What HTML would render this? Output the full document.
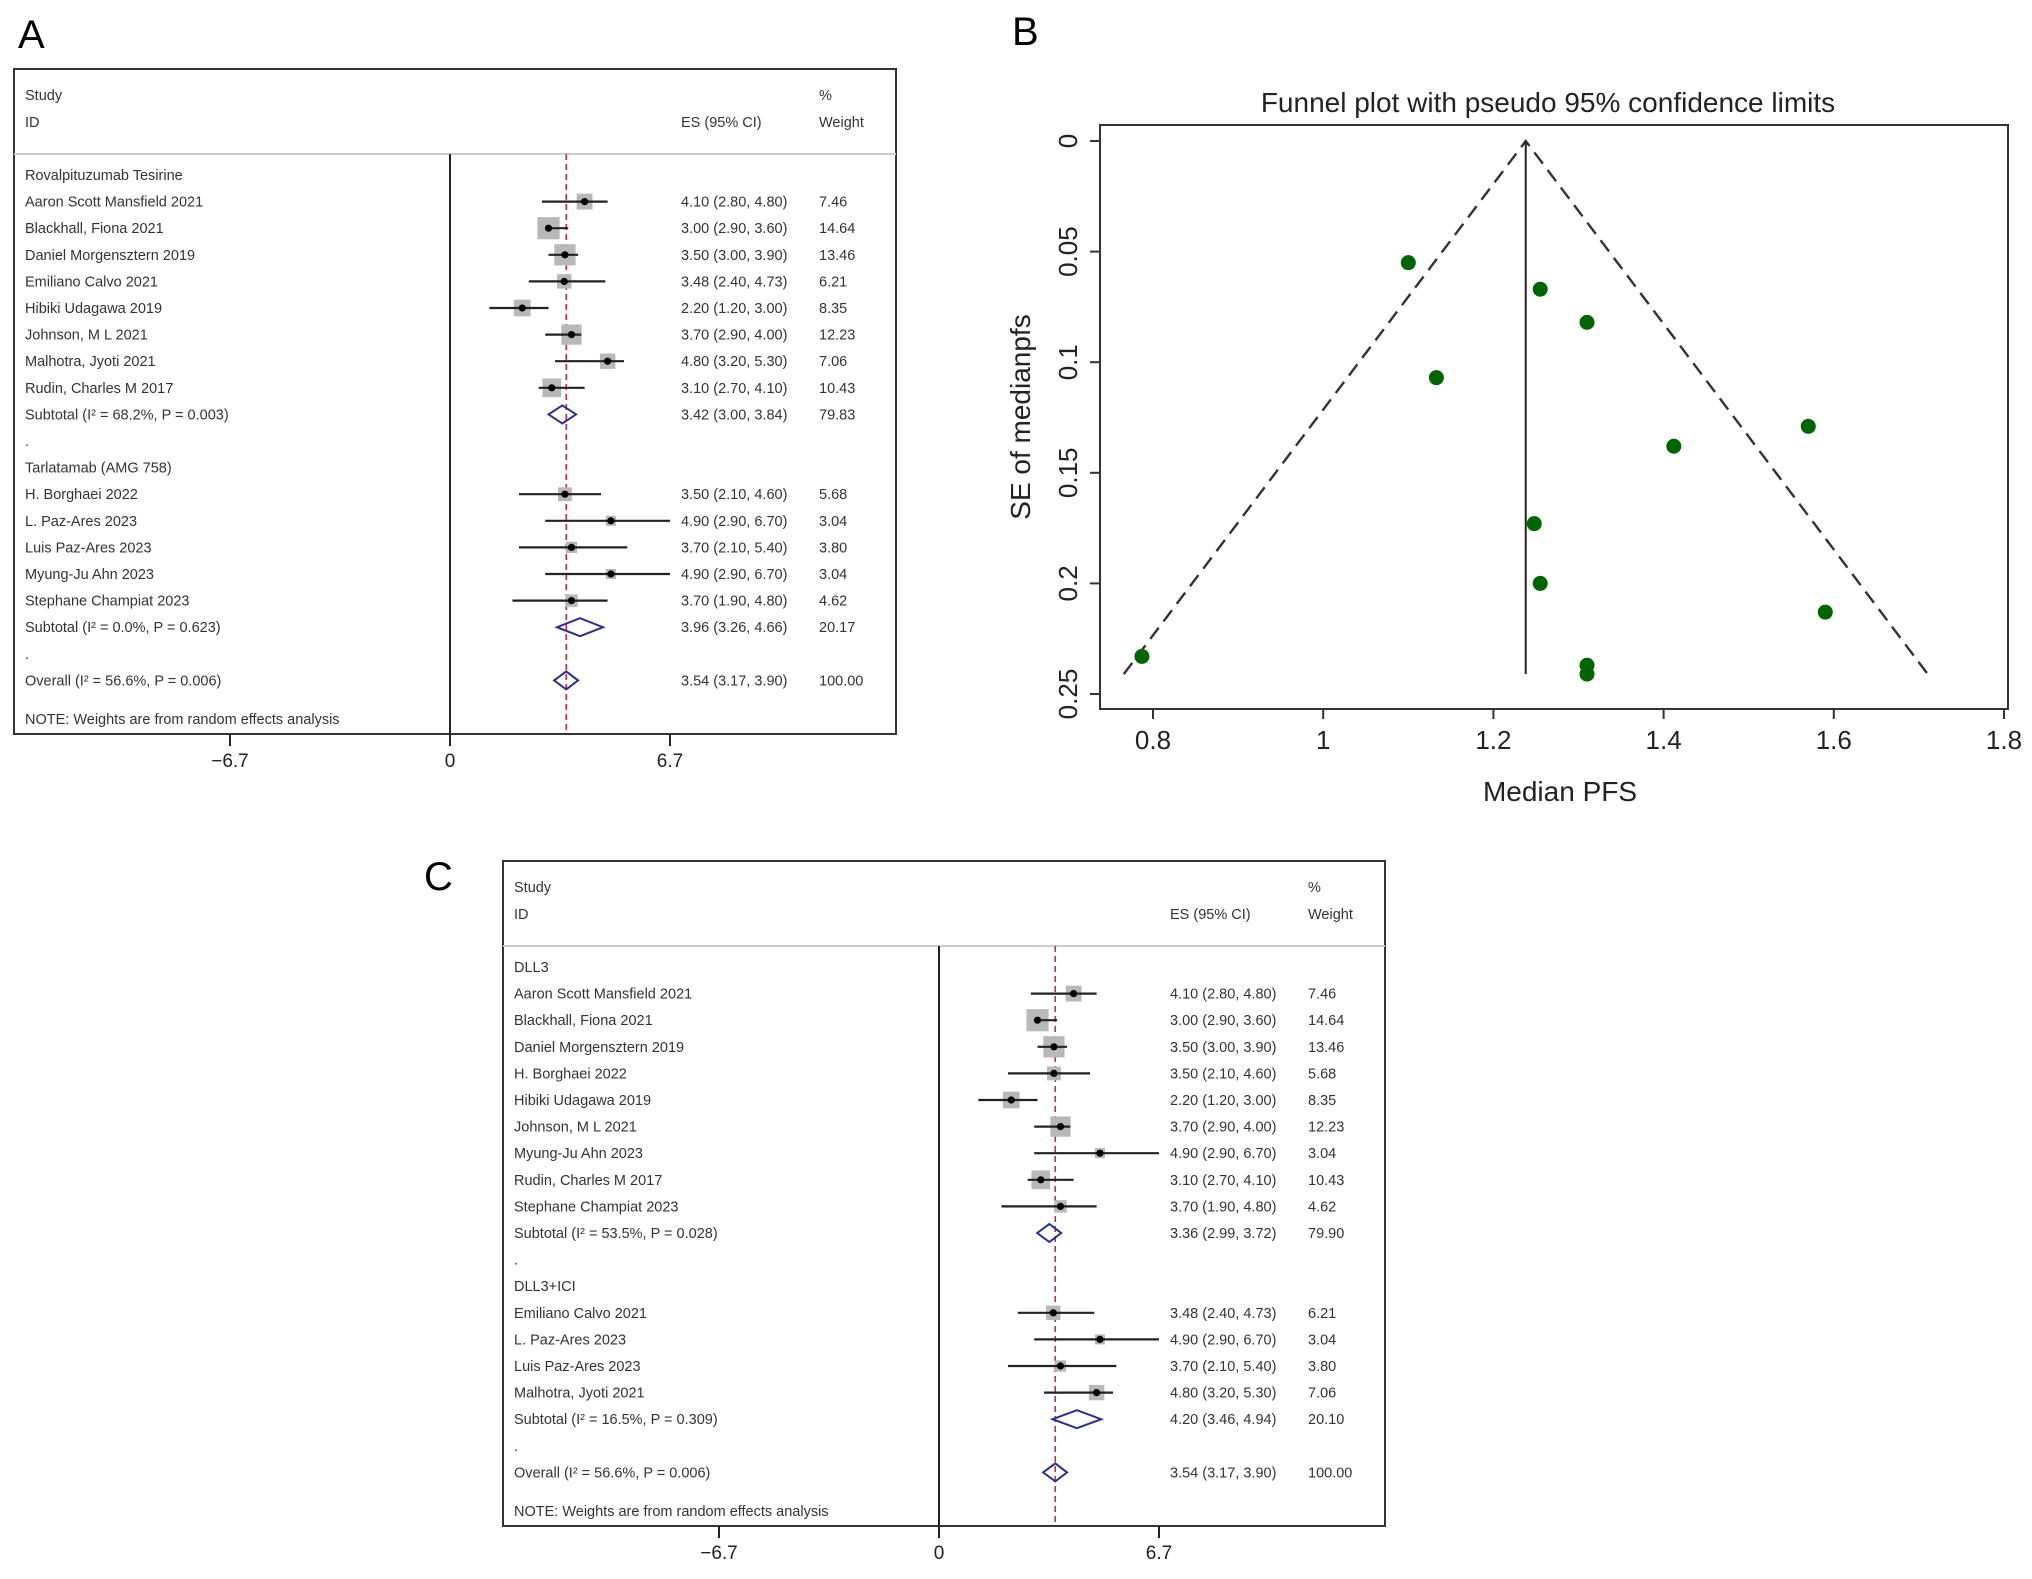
<!DOCTYPE html>
<html><head><meta charset="utf-8"><style>
html,body{margin:0;padding:0;background:#fff;}
svg{display:block;font-family:"Liberation Sans",Arial,sans-serif;}
</style></head><body>
<svg id="fig" width="2032" height="1579" viewBox="0 0 2032 1579" xmlns="http://www.w3.org/2000/svg">
<text x="18" y="48" font-size="40" fill="#000">A</text>
<text x="1012" y="45" font-size="40" fill="#000">B</text>
<text x="424" y="890" font-size="40" fill="#000">C</text>
<g id="pa"></g>
<g id="pb"></g>
<g id="pc"></g>
</svg>
<script>
// ---- Panel A data ----
const aKinds = ['g','s','s','s','s','s','s','s','s','t','d','g','s','s','s','s','s','t','d','o'];
const aLabels = ['Rovalpituzumab Tesirine','Aaron Scott Mansfield 2021','Blackhall, Fiona 2021','Daniel Morgensztern 2019','Emiliano Calvo 2021','Hibiki Udagawa 2019','Johnson, M L 2021','Malhotra, Jyoti 2021','Rudin, Charles M 2017','Subtotal  (I² = 68.2%, P = 0.003)','.','Tarlatamab (AMG 758)','H. Borghaei 2022','L. Paz-Ares 2023','Luis Paz-Ares 2023','Myung-Ju Ahn 2023','Stephane Champiat 2023','Subtotal  (I² = 0.0%, P = 0.623)','.','Overall  (I² = 56.6%, P = 0.006)'];
const aEs = [null,4.10,3.00,3.50,3.48,2.20,3.70,4.80,3.10,3.42,null,null,3.50,4.90,3.70,4.90,3.70,3.96,null,3.54];
const aLo = [null,2.80,2.90,3.00,2.40,1.20,2.90,3.20,2.70,3.00,null,null,2.10,2.90,2.10,2.90,1.90,3.26,null,3.17];
const aHi = [null,4.80,3.60,3.90,4.73,3.00,4.00,5.30,4.10,3.84,null,null,4.60,6.70,5.40,6.70,4.80,4.66,null,3.90];
const aWt = [null,7.46,14.64,13.46,6.21,8.35,12.23,7.06,10.43,79.83,null,null,5.68,3.04,3.80,3.04,4.62,20.17,null,100.00];
// ---- Panel C data ----
const cKinds = ['g','s','s','s','s','s','s','s','s','s','t','d','g','s','s','s','s','t','d','o'];
const cLabels = ['DLL3','Aaron Scott Mansfield 2021','Blackhall, Fiona 2021','Daniel Morgensztern 2019','H. Borghaei 2022','Hibiki Udagawa 2019','Johnson, M L 2021','Myung-Ju Ahn 2023','Rudin, Charles M 2017','Stephane Champiat 2023','Subtotal  (I² = 53.5%, P = 0.028)','.','DLL3+ICI','Emiliano Calvo 2021','L. Paz-Ares 2023','Luis Paz-Ares 2023','Malhotra, Jyoti 2021','Subtotal  (I² = 16.5%, P = 0.309)','.','Overall  (I² = 56.6%, P = 0.006)'];
const cEs = [null,4.10,3.00,3.50,3.50,2.20,3.70,4.90,3.10,3.70,3.36,null,null,3.48,4.90,3.70,4.80,4.20,null,3.54];
const cLo = [null,2.80,2.90,3.00,2.10,1.20,2.90,2.90,2.70,1.90,2.99,null,null,2.40,2.90,2.10,3.20,3.46,null,3.17];
const cHi = [null,4.80,3.60,3.90,4.60,3.00,4.00,6.70,4.10,4.80,3.72,null,null,4.73,6.70,5.40,5.30,4.94,null,3.90];
const cWt = [null,7.46,14.64,13.46,5.68,8.35,12.23,3.04,10.43,4.62,79.90,null,null,6.21,3.04,3.80,7.06,20.10,null,100.00];
const forestTicks = [-6.7,0,6.7];
const forestTickLabels = ['\u22126.7','0','6.7'];
const overallEs = 3.54;
// ---- Panel B data ----
const bX = [1.10,1.255,1.31,1.133,1.57,1.412,1.248,1.255,1.59,0.787,1.31,1.31];
const bSE = [0.055,0.067,0.082,0.107,0.129,0.138,0.173,0.200,0.213,0.233,0.237,0.241];
const bPooled = 1.238;
const bMaxSE = 0.241;
const bXTicks = [0.8,1,1.2,1.4,1.6,1.8];
const bXTickLabels = ['0.8','1','1.2','1.4','1.6','1.8'];
const bYTicks = [0,0.05,0.1,0.15,0.2,0.25];
const bYTickLabels = ['0','0.05','0.1','0.15','0.2','0.25'];

const NS='http://www.w3.org/2000/svg';
function mk(parent,tag,attrs,txt){const e=document.createElementNS(NS,tag);for(const k in attrs)e.setAttribute(k,attrs[k]);if(txt!==undefined)e.textContent=txt;parent.appendChild(e);return e;}

function forest(g,bx,by,kinds,labels,es,lo,hi,wt){
  const W=882,H=665,zero=bx+436,ppu=220/6.7;
  const X=v=>zero+v*ppu;
  const rowY=i=>by+106+i*26.6;
  const box=mk(g,'rect',{x:bx,y:by,width:W,height:H,fill:'none',stroke:'#333','stroke-width':2});
  
  
  const hl=mk(g,'line',{x1:bx,x2:bx+W,y1:by+85,y2:by+85,stroke:'#ccc','stroke-width':2});
  
  
  const ts={'font-size':14.5,fill:'#333'};
  const hdr=[['Study',bx+11,by+31],['ID',bx+11,by+58],['ES (95% CI)',zero+231,by+58],['%',zero+369,by+31],['Weight',zero+369,by+58]];
  hdr.forEach(h=>{const t=mk(g,'text',Object.assign({x:h[1],y:h[2]},ts),h[0]);
    
    });
  const zl=mk(g,'line',{x1:zero,x2:zero,y1:by+85,y2:by+H+12,stroke:'#222','stroke-width':2});
  
  
  const ol=mk(g,'line',{x1:X(overallEs),x2:X(overallEs),y1:by+85,y2:by+H,stroke:'#c0304a','stroke-width':1.6,'stroke-dasharray':'6 4'});
  
  
  forestTicks.forEach((v,i)=>{
    const tk=mk(g,'line',{x1:X(v),x2:X(v),y1:by+H,y2:by+H+12,stroke:'#222','stroke-width':2});
    
    
    const tl=mk(g,'text',{x:X(v),y:by+H+33,'font-size':19,'text-anchor':'middle',fill:'#222'},forestTickLabels[i]);
    
    
  });
  kinds.forEach((k,i)=>{
    const y=rowY(i);
    const lab=mk(g,'text',Object.assign({x:bx+11,y:y+5},ts),labels[i]);
    
    
    if(es[i]===null) return;
    const est=mk(g,'text',Object.assign({x:zero+231,y:y+5},ts),es[i].toFixed(2)+' ('+lo[i].toFixed(2)+', '+hi[i].toFixed(2)+')');
    
    
    const wtx=mk(g,'text',Object.assign({x:zero+369,y:y+5},ts),wt[i].toFixed(2));
    
    
    if(k==='s'){
      const s=5.8*Math.sqrt(wt[i]);
      const sq=mk(g,'rect',{x:X(es[i])-s/2,y:y-s/2,width:s,height:s,fill:'#b8b8b8'});
      
      
      const ci=mk(g,'line',{x1:X(lo[i]),x2:X(hi[i]),y1:y,y2:y,stroke:'#222','stroke-width':2.2});
      
      
      const pt=mk(g,'circle',{cx:X(es[i]),cy:y,r:3.6,fill:'#000'});
      
      
    } else {
      const d=mk(g,'polygon',{points:`${X(lo[i])},${y} ${X(es[i])},${y-9} ${X(hi[i])},${y} ${X(es[i])},${y+9}`,fill:'none',stroke:'#2e2e8a','stroke-width':2});
      
      
    }
  });
  const note=mk(g,'text',Object.assign({x:bx+11,y:by+655},ts),'NOTE: Weights are from random effects analysis');
  
  
}
forest(document.getElementById('pa'),14,69,aKinds,aLabels,aEs,aLo,aHi,aWt);
forest(document.getElementById('pc'),503,861,cKinds,cLabels,cEs,cLo,cHi,cWt);

// ---- Funnel plot ----
(function(){
  const g=document.getElementById('pb');
  const L=1100,R=2008,T=125,B=709;
  const X=v=>1153+(v-0.8)*851;
  const Y=v=>141+v*(694-141)/0.25;
  const fr=mk(g,'rect',{x:L,y:T,width:R-L,height:B-T,fill:'none',stroke:'#333','stroke-width':2});
  
  
  const ti=mk(g,'text',{x:1548,y:112,'font-size':28,'text-anchor':'middle',fill:'#222'},'Funnel plot with pseudo 95% confidence limits');
  
  
  bXTicks.forEach((v,i)=>{
    const t=mk(g,'line',{x1:X(v),x2:X(v),y1:B,y2:B+10,stroke:'#333','stroke-width':2});
    
    
    const l=mk(g,'text',{x:X(v),y:B+40,'font-size':26,'text-anchor':'middle',fill:'#222'},bXTickLabels[i]);
    
    
  });
  bYTicks.forEach((v,i)=>{
    const t=mk(g,'line',{x1:L-10,x2:L,y1:Y(v),y2:Y(v),stroke:'#333','stroke-width':2});
    
    
    const l=mk(g,'text',{x:1077,y:Y(v),'font-size':26,'text-anchor':'middle',fill:'#222',transform:`rotate(-90 1077 ${Y(v)})`},bYTickLabels[i]);
    
    
  });
  const xl=mk(g,'text',{x:1560,y:801,'font-size':28,'text-anchor':'middle',fill:'#222'},'Median PFS');
  
  
  const yl=mk(g,'text',{x:1030,y:417,'font-size':28,'text-anchor':'middle',fill:'#222',transform:'rotate(-90 1030 417)'},'SE of medianpfs');
  
  
  const half=1.96*bMaxSE;
  const fl=mk(g,'polyline',{points:`${X(bPooled-half)},${Y(bMaxSE)} ${X(bPooled)},${Y(0)} ${X(bPooled+half)},${Y(bMaxSE)}`,fill:'none',stroke:'#333','stroke-width':2.4,'stroke-dasharray':'14 8'});
  
  
  const pl=mk(g,'line',{x1:X(bPooled),x2:X(bPooled),y1:Y(0),y2:Y(bMaxSE),stroke:'#222','stroke-width':2});
  
  
  bX.forEach((v,i)=>{
    const c=mk(g,'circle',{cx:X(v),cy:Y(bSE[i]),r:7.5,fill:'#006400'});
    
    
  });
})();
</script>
</body></html>
